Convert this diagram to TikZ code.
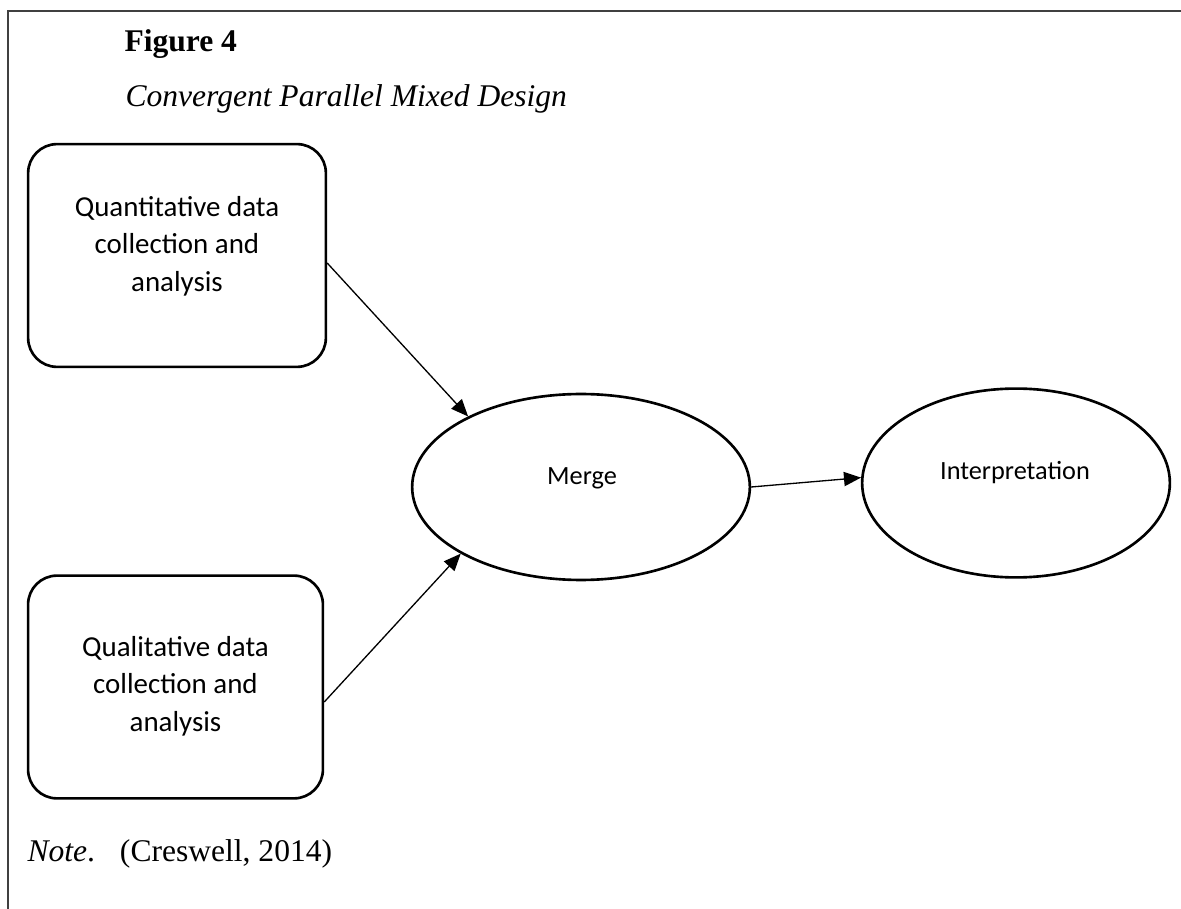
\documentclass[tikz,border=0pt]{standalone}
\usepackage{fontspec}
\setmainfont{Liberation Serif}
\newfontfamily\calib{Carlito}
\usetikzlibrary{shapes.geometric,arrows.meta,calc}
\tikzset{
  boxshape/.style={draw, line width=1pt, rounded corners=11pt, minimum width=113.2pt, minimum height=84.7pt, inner sep=0pt},
  ellshape/.style={draw, ellipse, line width=1pt, inner sep=0pt},
  boxtext/.style={font=\calib\fontsize{11pt}{14.25pt}\selectfont, align=center, inner sep=0pt},
  elltext/.style={font=\calib\fontsize{10pt}{12pt}\selectfont, inner sep=0pt},
  captext/.style={anchor=base west, inner sep=0pt, font=\fontsize{12pt}{14pt}\selectfont},
  conn/.style={line width=0.5pt, -{Triangle[length=6.5pt,width=5.4pt]}},
  frameline/.style={line width=0.75pt, draw=black!75}
}
\begin{document}
\begin{tikzpicture}[x=0.3802pt, y=-0.3802pt]
\useasboundingbox (0,0) rectangle (1181,909);
\draw[frameline] (8,909) -- (8,11) -- (1181,11);
\node[captext] (fig) at (124,52) {\textbf{Figure 4}};
\node[captext] (title) at (125,107) {\textit{Convergent Parallel Mixed Design}};
\node[boxshape] (q) at (177,255.5) {};
\node[boxtext] (qt) at (177,246) {Quantitative data\\collection and\\analysis};
\node[boxshape, minimum width=112.1pt] (l) at (175.5,687) {};
\node[boxtext] (lt) at (175.5,686) {Qualitative data\\collection and\\analysis};
\node[ellshape, minimum width=128.4pt, minimum height=70.7pt] (m) at (581,487) {};
\node[elltext] (mt) at (582,478) {Merge};
\node[ellshape, minimum width=117pt, minimum height=71.8pt] (i) at (1016,483) {};
\node[elltext] (it) at (1015,473) {Interpretation};
\node[captext] (note) at (27,861) {\textit{Note}.\hspace{9.5pt}(Creswell, 2014)};
\draw[conn] ($(q.east)+(0,7.5)$) -- (m.148);
\draw[conn] ($(l.east)+(0,15)$) -- (m.209);
\draw[conn] (m.0) -- (i.178);
\end{tikzpicture}
\end{document}
